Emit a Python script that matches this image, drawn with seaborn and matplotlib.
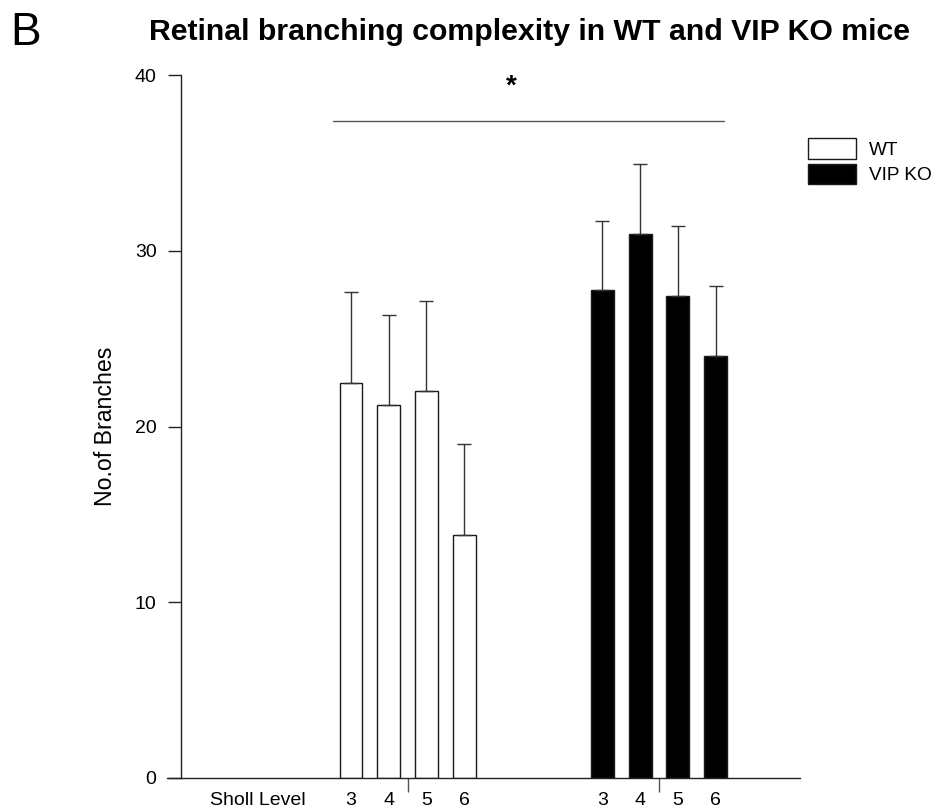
import numpy as np
import pandas as pd
import matplotlib
matplotlib.use("Agg")
import matplotlib.pyplot as plt
import seaborn as sns

# ---- data ----
levels = ["3", "4", "5", "6"]
groups = ["WT", "VIP KO"]
wt_mean = [22.5, 21.2, 22.0, 13.85]
wt_err = [5.15, 5.12, 5.15, 5.15]
ko_mean = [27.75, 30.95, 27.45, 24.0]
ko_err = [3.96, 4.0, 3.96, 3.97]
y_ticks = [0, 10, 20, 30, 40]
title = "Retinal branching complexity in WT and VIP KO mice"
ylabel = "No.of Branches"
xlabel_left = "Sholl Level"
sig_label = "*"
panel_label = "B"

# ---- layout ----
ko_offset = 6.67
wt_pos = np.arange(len(levels), dtype=float)
ko_pos = wt_pos + ko_offset

df = pd.DataFrame({
    "pos": np.concatenate([wt_pos, ko_pos]),
    "value": wt_mean + ko_mean,
    "group": [groups[0]] * len(levels) + [groups[1]] * len(levels),
})

sns.set_style("ticks")
plt.rcParams["font.family"] = ["Liberation Sans", "DejaVu Sans"]
for k in ["text.color", "axes.labelcolor", "xtick.color", "ytick.color"]:
    plt.rcParams[k] = "black"

W, H = 937, 810
fig = plt.figure(figsize=(W / 100, H / 100), dpi=100)
fig.patch.set_facecolor("white")

ax_left_px, ax_right_px = 167, 800
ax_bot_px, ax_top_px = 778, 75
ax = fig.add_axes([ax_left_px / W, 1 - ax_bot_px / H,
                   (ax_right_px - ax_left_px) / W, (ax_bot_px - ax_top_px) / H])

sns.barplot(data=df, x="pos", y="value", hue="group", native_scale=True,
            dodge=False, width=0.61, errorbar=None,
            palette={groups[0]: "white", groups[1]: "black"},
            edgecolor="#1a1a1a", linewidth=1.0, ax=ax)

# upward-only error bars
ax.errorbar(wt_pos, wt_mean, yerr=[np.zeros(len(wt_err)), wt_err], fmt="none",
            ecolor="#333333", elinewidth=1.0, capsize=5.2, capthick=1.0)
ax.errorbar(ko_pos, ko_mean, yerr=[np.zeros(len(ko_err)), ko_err], fmt="none",
            ecolor="#333333", elinewidth=1.0, capsize=5.2, capthick=1.0)

px_per_unit = 37.7
x0_px = 351
xlim_left = (ax_left_px - x0_px) / px_per_unit
xlim_right = (ax_right_px - x0_px) / px_per_unit
ax.set_xlim(xlim_left, xlim_right)
ax.set_ylim(0, 40)

# spines
sns.despine(ax=ax)
spine_x = (181 - x0_px) / px_per_unit
ax.spines["left"].set_position(("data", spine_x))
for s in ["left", "bottom"]:
    ax.spines[s].set_color("#222222")
    ax.spines[s].set_linewidth(1.0)

# y axis
ax.set_yticks(y_ticks)
ax.set_yticklabels([str(t) for t in y_ticks])
ax.tick_params(axis="y", direction="out", length=9.6, width=1.0, pad=8,
               labelsize=14, color="#222222")
ax.set_ylabel(ylabel, fontsize=16.7)
ax.yaxis.set_label_coords((117 - ax_left_px) / (ax_right_px - ax_left_px), 0.5)

# x axis labels
sholl_x = (258 - x0_px) / px_per_unit
ax.set_xticks([sholl_x] + list(wt_pos) + list(ko_pos))
ax.set_xticklabels([xlabel_left] + levels + levels)
ax.tick_params(axis="x", which="major", length=0, pad=10, labelsize=14)
ax.set_xticks([(wt_pos[1] + wt_pos[2]) / 2, (ko_pos[1] + ko_pos[2]) / 2], minor=True)
ax.tick_params(axis="x", which="minor", direction="out", length=10, width=1.0,
               color="#555555")
ax.set_xlabel("")

# significance bar
sig_x0 = (333 - x0_px) / px_per_unit
sig_x1 = (724 - x0_px) / px_per_unit
sig_y = (778 - 121) / 17.575
ax.plot([sig_x0, sig_x1], [sig_y, sig_y], color="#555555", lw=1.0, clip_on=False)
ax.text((511 - x0_px) / px_per_unit, 38.95, sig_label, ha="center", va="baseline",
        fontsize=20, fontweight="bold", clip_on=False)

# legend
handles, labels = ax.get_legend_handles_labels()
leg = ax.legend(handles, labels, loc="upper left",
                bbox_to_anchor=(808 / W, 1 - 138 / H), bbox_transform=fig.transFigure,
                frameon=False, fontsize=13.7, handlelength=2.5, handleheight=1.3,
                labelspacing=0.25, handletextpad=0.7, borderpad=0, borderaxespad=0)
for h in leg.legend_handles:
    h.set_edgecolor("#1a1a1a")
    h.set_linewidth(1.0)

# title and panel label
fig.text(530 / W, 1 - 40 / H, title, ha="center", va="baseline",
         fontsize=21.8, fontweight="bold")
fig.text(10 / W, 1 - 45 / H, panel_label, ha="left", va="baseline", fontsize=33)

fig.savefig("out.png", dpi=100, facecolor="white")
